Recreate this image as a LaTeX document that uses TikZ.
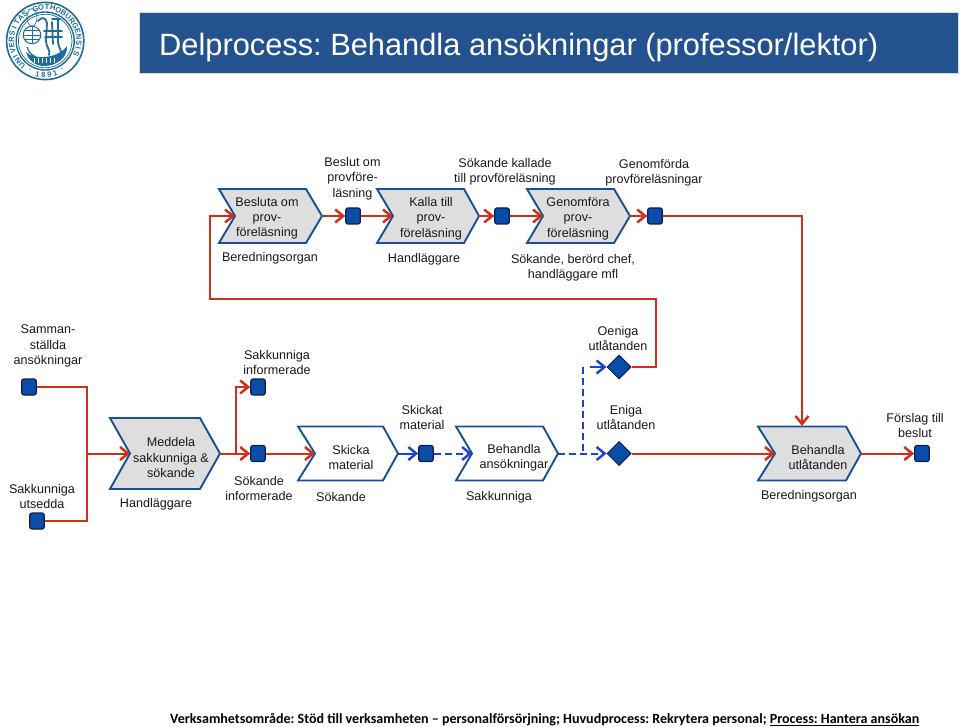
\documentclass[tikz,border=0pt]{standalone}
\usepackage{fontspec}
\setmainfont{Liberation Sans}
\newfontfamily\footfont{Carlito}
\usetikzlibrary{arrows.meta,shapes.geometric}
\definecolor{rl}{HTML}{D0301A}
\definecolor{bl}{HTML}{1F3FD8}
\definecolor{navy}{HTML}{0A4DA8}
\definecolor{edgeb}{HTML}{1B4F93}
\definecolor{dark}{HTML}{0A1F4A}
\definecolor{banner}{HTML}{24528F}
\definecolor{seal}{HTML}{1E6C9C}
\definecolor{gfill}{HTML}{DEDEDE}
\tikzset{
 lab/.style={align=center,inner sep=0pt,yshift=-1.6pt,font=\fontsize{12.6}{15.3}\selectfont\frenchspacing,text=black!90},
 sq/.style={draw=dark,fill=navy,line width=1.1pt,rounded corners=2pt,minimum width=14.5pt,minimum height=16pt,inner sep=0pt},
 dia/.style={diamond,draw=dark,fill=navy,line width=1pt,minimum width=24pt,minimum height=24pt,inner sep=0pt},
 chev/.style={draw=edgeb,line width=1.9pt,line join=miter},
 redl/.style={draw=rl,line width=2pt},
 redarr/.style={redl,-{Straight Barb[length=8pt,width=13pt,line width=2.5pt]}},
 bluel/.style={draw=bl,line width=2pt},
 bluedash/.style={bluel,dash pattern=on 7pt off 4pt},
 bluearr/.style={-{Straight Barb[length=8pt,width=13pt,line width=2.4pt]}},
 sealt/.style={seal,line width=0.9pt},
 sealc/.style={inner sep=0pt,text=seal,font=\bfseries\fontsize{7.6}{8}\selectfont}
}
% #1 name #2 fill #3 left #4 notch #5 shoulder #6 tip #7 top #8 bottom
\newcommand{\chevshape}[8]{%
 \path[chev,fill=#2] (#3,#7) -- (#5,#7) -- (#6,{(#7+#8)/2}) -- (#5,#8) -- (#3,#8) -- (#4,{(#7+#8)/2}) -- cycle;
 \coordinate (#1-in) at (#4,{(#7+#8)/2});
 \coordinate (#1-out) at (#6,{(#7+#8)/2});
}
\begin{document}
\begin{tikzpicture}[x=1pt,y=-1pt]
\useasboundingbox (0,0) rectangle (960,727);
% banner
\node[draw=black!15,line width=0.4pt,fill=banner,minimum width=819pt,minimum height=61pt,inner sep=0pt,anchor=north west] (ban) at (139,12) {};
\node[anchor=base west,inner sep=0pt,text=white,font=\fontsize{30.8}{31}\selectfont\frenchspacing] (ttl) at (159,55.6) {Delprocess: Behandla ansökningar (professor/lektor)};
% seal
\draw[sealt,line width=1.6pt] (45.2,41) circle (38.6);
\draw[sealt,line width=1.4pt] (45.2,41) circle (29);
\draw[sealt,line width=0.7pt] (45.2,41) circle (26.8);
\foreach \c [count=\i from 0] in {U,N,I,V,E,R,S,I,T,A,S,·,G,O,T,H,O,B,U,R,G,E,N,S,I,S}{
  \pgfmathsetmacro{\ang}{227-10*\i}
  \node[sealc,rotate=\ang-90] (sa\i) at ({45.2+33.8*cos(\ang)},{41-33.8*sin(\ang)}) {\c};
}
\foreach \c/\ang [count=\i] in {·/243,1/257,8/267,9/277,1/287,·/301}{
  \node[sealc,rotate=\ang+90] (sb\i) at ({45.2+33.8*cos(\ang)},{41-33.8*sin(\ang)}) {\c};
}
\draw[sealt,fill=white,line width=1pt] (32,35) circle (8.8);
\draw[sealt,line width=0.6pt] (23.2,35) -- (40.8,35) (24.5,30.5) -- (39.5,30.5) (24.5,39.5) -- (39.5,39.5);
\draw[sealt,line width=0.6pt] (32,26.2) -- (32,43.8);
\draw[sealt,line width=0.6pt] (32,26.2) arc[start angle=90,end angle=270,x radius=5,y radius=8.8];
\draw[sealt,line width=0.6pt] (32,26.2) arc[start angle=90,end angle=-90,x radius=5,y radius=8.8];
\draw[sealt,line width=1.8pt,line cap=round] (38,21) .. controls (42,16) and (46,18) .. (47,23) (47,23) -- (46,40) .. controls (46,48) and (51,50) .. (49,55) (52,22) -- (53,44) (58,20) -- (58,42) .. controls (58,48) and (63,50) .. (60,55) (44,31) -- (62,31) (45,37) -- (62,37) (52,19) -- (60,19);
\fill[seal] (26,52) .. controls (34,60) and (58,59) .. (67,46) .. controls (68,58) and (56,66) .. (44,66) .. controls (35,66) and (28,60) .. (26,52) -- cycle;
\draw[sealt,line width=1.2pt] (27,47) .. controls (29,53) and (32,55) .. (36,57);
\foreach \x in {34,38,42,46,50,54}{\draw[white,line width=0.7pt] (\x,58.5) -- (\x,63);}
% top row chevrons
\chevshape{a}{gfill}{219}{235}{306}{322}{189}{243}
\chevshape{b}{gfill}{377}{393}{464}{479}{189}{243}
\chevshape{c}{gfill}{527}{543}{614}{630}{189}{243}
\node[sq] (s1) at (353,216) {};
\node[sq] (s2) at (502,216) {};
\node[sq] (s3) at (655,216) {};
% lower row chevrons
\chevshape{m}{gfill}{110}{130}{200}{220}{418}{489}
\chevshape{d}{white}{298}{315}{383}{398}{426.5}{480.5}
\chevshape{e}{white}{456}{472}{543}{558}{426.5}{480.5}
\chevshape{f}{gfill}{758}{775}{846}{861}{426.5}{480.5}
\node[sq] (t1) at (29,387) {};
\node[sq] (t2) at (37,521) {};
\node[sq] (t3) at (258,387) {};
\node[sq] (t4) at (258,453.5) {};
\node[sq] (t5) at (426,453.5) {};
\node[sq] (t6) at (922,453.5) {};
\node[dia] (o) at (619,367) {};
\node[dia] (g) at (619,453.5) {};
% helper coordinates
\coordinate (j1) at (87,453.5);
\coordinate (j2) at (236,453.5);
\coordinate (j3) at (583,453.5);
\coordinate (fin) at (802,426);
\coordinate (hb) at (590,367);
\coordinate (up) at (583,367);
\coordinate (k1) at (656,367);
\coordinate (k2) at (656,299);
\coordinate (k3) at (210,299);
\coordinate (k4) at (210,216);
% connectors
\draw[redarr] (a-out) -- (s1.west);
\draw[redarr] (s1.east) -- (b-in);
\draw[redarr] (b-out) -- (s2.west);
\draw[redarr] (s2.east) -- (c-in);
\draw[redarr] (c-out) -- (s3.west);
\draw[redarr] (s3.east) -| (fin);
\draw[redarr] (o.east) -- (k1) -- (k2) -- (k3) -- (k4) -- (a-in);
\draw[redl] (t1.east) -| (j1);
\draw[redl] (t2.east) -| (j1);
\draw[redarr] (j1) -- (m-in);
\draw[redarr] (m-out) -- (t4.west);
\draw[redarr] (j2) |- (t3.west);
\draw[redarr] (t4.east) -- (d-in);
\draw[bluel,bluearr] (d-out) -- (t5.west);
\draw[bluedash,bluearr] (t5.east) -- (e-in);
\draw[bluedash,bluearr] (e-out) -- (g.west);
\draw[bluedash] (up) -- (j3);
\draw[bluel,bluearr] (hb) -- (o.west);
\draw[redarr] (g.east) -- (f-in);
\draw[redarr] (f-out) -- (t6.west);
% labels
\node[lab] (l1) at (267,216.5) {Besluta om\\prov-\\föreläsning};
\node[lab] (l2) at (270,256.5) {Beredningsorgan};
\node[lab] (l3) at (352.5,177) {Beslut om\\provföre-\\läsning};
\node[lab] (l4) at (431,217) {Kalla till\\prov-\\föreläsning};
\node[lab] (l5) at (424,258) {Handläggare};
\node[lab] (l6) at (505,170) {Sökande kallade\\till provföreläsning};
\node[lab] (l7) at (578,217) {Genomföra\\prov-\\föreläsning};
\node[lab] (l8) at (654,171) {Genomförda\\provföreläsningar};
\node[lab] (l9) at (573,266) {Sökande, berörd chef,\\handläggare mfl};
\node[lab] (l10) at (48,344.5) {Samman-\\ställda\\ansökningar};
\node[lab] (l11) at (42,495) {Sakkunniga\\utsedda};
\node[lab] (l12) at (277,361) {Sakkunniga\\informerade};
\node[lab] (l13) at (171,456) {Meddela\\sakkunniga \&\\sökande};
\node[lab] (l14) at (156,503) {Handläggare};
\node[lab] (l15) at (259,487) {Sökande\\informerade};
\node[lab] (l16) at (351,456) {Skicka\\material};
\node[lab] (l17) at (341,495) {Sökande};
\node[lab] (l18) at (422,416) {Skickat\\material};
\node[lab] (l19) at (514,456) {Behandla\\ansökningar};
\node[lab] (l20) at (499,496) {Sakkunniga};
\node[lab] (l21) at (618,337) {Oeniga\\utlåtanden};
\node[lab] (l22) at (626,416) {Eniga\\utlåtanden};
\node[lab] (l23) at (818,456) {Behandla\\utlåtanden};
\node[lab] (l24) at (809,495) {Beredningsorgan};
\node[lab] (l25) at (915,424) {Förslag till\\beslut};
\node[anchor=base west,inner sep=0pt,font=\footfont\bfseries\fontsize{14.05}{14}\selectfont\frenchspacing] (foot) at (170,723.5) {Verksamhetsområde: Stöd till verksamheten – personalförsörjning; Huvudprocess: Rekrytera personal; \underline{Process: Hantera ansökan}};
\end{tikzpicture}
\end{document}
